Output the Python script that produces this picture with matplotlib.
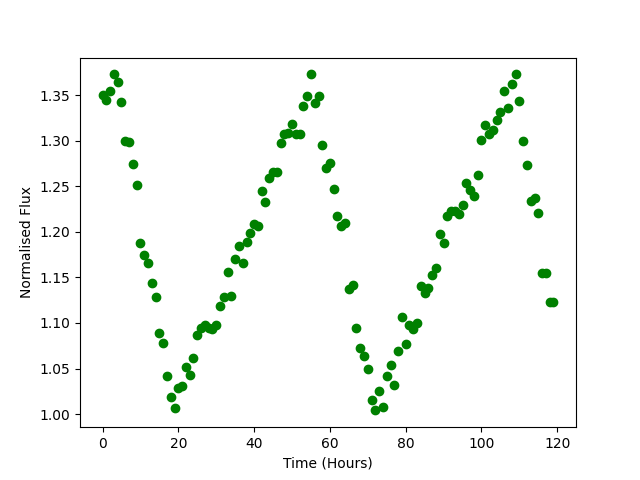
import numpy as np
import matplotlib
matplotlib.use("Agg")
import matplotlib.pyplot as plt

# hourly samples, flux
hours = np.arange(120)
flux = [1.350, 1.345, 1.355, 1.373, 1.365, 1.343, 1.300, 1.299, 1.275, 1.251,
        1.188, 1.175, 1.166, 1.144, 1.128, 1.089, 1.078, 1.042, 1.019, 1.007,
        1.029, 1.031, 1.052, 1.043, 1.061, 1.087, 1.095, 1.098, 1.095, 1.093,
        1.098, 1.119, 1.129, 1.156, 1.130, 1.170, 1.184, 1.166, 1.189, 1.199,
        1.209, 1.206, 1.245, 1.233, 1.259, 1.266, 1.266, 1.298, 1.307, 1.309,
        1.319, 1.308, 1.307, 1.338, 1.349, 1.373, 1.342, 1.349, 1.295, 1.270,
        1.276, 1.247, 1.218, 1.207, 1.210, 1.137, 1.142, 1.094, 1.072, 1.064,
        1.050, 1.015, 1.004, 1.025, 1.008, 1.042, 1.054, 1.032, 1.069, 1.107,
        1.077, 1.098, 1.093, 1.100, 1.141, 1.133, 1.138, 1.153, 1.160, 1.198,
        1.188, 1.218, 1.223, 1.223, 1.220, 1.230, 1.254, 1.246, 1.239, 1.263,
        1.301, 1.317, 1.307, 1.312, 1.323, 1.332, 1.355, 1.336, 1.362, 1.373,
        1.344, 1.300, 1.274, 1.234, 1.237, 1.221, 1.155, 1.155, 1.123, 1.123]

plt.figure(figsize=(6.4, 4.8), dpi=100)
plt.plot(hours, flux, 'go')
plt.xlabel("Time (Hours)")
plt.ylabel("Normalised Flux")
plt.savefig("out.png")
